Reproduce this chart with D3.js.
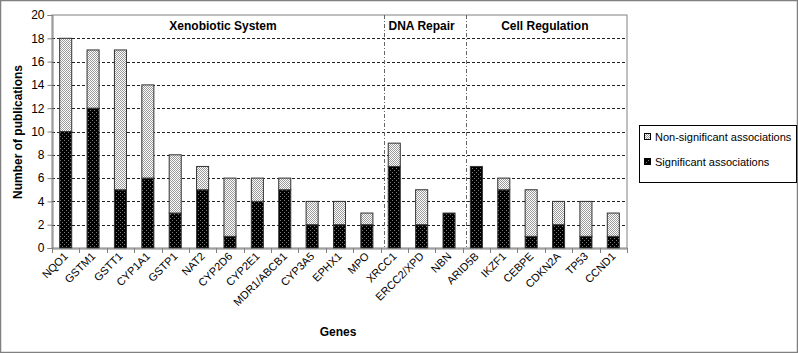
<!DOCTYPE html>
<html>
<head>
<meta charset="utf-8">
<script src="https://cdn.jsdelivr.net/npm/d3@7"></script>
<style>
  html, body { margin: 0; padding: 0; background: #fff; }
  svg { display: block; font-family: Arial, "Liberation Sans", sans-serif; }
</style>
</head>
<body>
<svg id="chart" width="798" height="353"></svg>
<script>
const genes = ["NQO1","GSTM1","GSTT1","CYP1A1","GSTP1","NAT2","CYP2D6","CYP2E1","MDR1/ABCB1","CYP3A5","EPHX1","MPO","XRCC1","ERCC2/XPD","NBN","ARID5B","IKZF1","CEBPE","CDKN2A","TP53","CCND1"];
const significant    = [10,12,5,6,3,5,1,4,5,2,2,2,7,2,3,7,5,1,2,1,1];
const nonSignificant = [8,5,12,8,5,2,5,2,1,2,2,1,2,3,0,0,1,4,2,3,2];
const yTicks = [0,2,4,6,8,10,12,14,16,18,20];
const groups = ["Xenobiotic System","DNA Repair","Cell Regulation"];
const groupStart = [0,12,15];
const groupEnd = [11,14,20];
const seriesNames = ["Non-significant associations","Significant associations"];

const svg = d3.select("#chart");
const W = 798, H = 353;
const m = {left: 52, right: 627, top: 15, bottom: 248};

// outer border
svg.append("rect").attr("x",0.5).attr("y",0.5).attr("width",W-1).attr("height",H-1)
  .attr("fill","#fff").attr("stroke","#808080").attr("stroke-width",1.5);

const defs = svg.append("defs");
const pL = defs.append("pattern").attr("id","pLight").attr("width",2).attr("height",2).attr("patternUnits","userSpaceOnUse");
pL.append("rect").attr("width",2).attr("height",2).attr("fill","#ffffff");
pL.append("rect").attr("x",0).attr("y",0).attr("width",1).attr("height",1).attr("fill","#9a9a9a");
pL.append("rect").attr("x",1).attr("y",1).attr("width",1).attr("height",1).attr("fill","#9a9a9a");
const pD = defs.append("pattern").attr("id","pDark").attr("width",4).attr("height",4).attr("patternUnits","userSpaceOnUse");
pD.append("rect").attr("width",4).attr("height",4).attr("fill","#000");
pD.append("rect").attr("x",0).attr("y",0).attr("width",1).attr("height",1).attr("fill","#7a7a7a");
pD.append("rect").attr("x",2).attr("y",2).attr("width",1).attr("height",1).attr("fill","#7a7a7a");

const x = d3.scaleBand().domain(genes).range([m.left, m.right]).paddingInner(0).paddingOuter(0);
const y = d3.scaleLinear().domain([0,20]).range([m.bottom, m.top]);

// plot border
svg.append("rect").attr("x",m.left).attr("y",m.top).attr("width",m.right-m.left).attr("height",m.bottom-m.top)
  .attr("fill","#fff").attr("stroke","#808080").attr("stroke-width",1);

// gridlines
svg.append("g").selectAll("line").data(yTicks.filter(v => v>0 && v<20)).join("line")
  .attr("x1",m.left).attr("x2",m.right)
  .attr("y1",d=>Math.round(y(d))+0.5).attr("y2",d=>Math.round(y(d))+0.5)
  .attr("stroke","#222").attr("stroke-width",1).attr("stroke-dasharray","3,2");

// group separators
const bw = x.step();
[1,2].forEach(i => {
  const xs = Math.round(x(genes[groupStart[i]]) + 3.5) + 0.5;
  svg.append("line").attr("x1",xs).attr("x2",xs).attr("y1",m.top).attr("y2",m.bottom)
    .attr("stroke","#666").attr("stroke-width",1).attr("stroke-dasharray","4,2,1,2");
});

// group titles
groups.forEach((g,i) => {
  const a = x(genes[groupStart[i]]), b = x(genes[groupEnd[i]]) + bw;
  let cx = (a+b)/2;
  if (i===0) cx = 223;
  svg.append("text").attr("x",cx).attr("y",30).attr("text-anchor","middle")
    .attr("font-size",12).attr("font-weight","bold").text(g);
});

// bars
const barW = bw*0.44;
const data = genes.map((g,i)=>({g, s:significant[i], n:nonSignificant[i]}));
const bars = svg.append("g");
data.forEach(d => {
  const bx = x(d.g) + (bw-barW)/2;
  if (d.s>0) bars.append("rect").attr("x",bx).attr("y",y(d.s)).attr("width",barW).attr("height",y(0)-y(d.s))
    .attr("fill","url(#pDark)").attr("stroke","#333").attr("stroke-width",1);
  if (d.n>0) bars.append("rect").attr("x",bx).attr("y",y(d.s+d.n)).attr("width",barW).attr("height",y(d.s)-y(d.s+d.n))
    .attr("fill","url(#pLight)").attr("stroke","#333").attr("stroke-width",1);
});

// y axis
const yAxis = d3.axisLeft(y).tickValues(yTicks).tickSize(5).tickPadding(3);
const gy = svg.append("g").attr("transform",`translate(${m.left+0.5},0)`).call(yAxis);
gy.select(".domain").attr("stroke","#808080");
gy.selectAll(".tick line").attr("stroke","#808080");
gy.selectAll(".tick text").attr("font-size",12).attr("fill","#000").attr("font-family","Arial, 'Liberation Sans', sans-serif");

// x axis
const xAxis = d3.axisBottom(x).tickSize(0).tickFormat("");
const gx = svg.append("g").attr("transform",`translate(0,${m.bottom+0.5})`).call(xAxis);
gx.select(".domain").attr("stroke","#808080");
gx.selectAll(".tick").remove();
// boundary ticks
svg.append("g").selectAll("line").data(d3.range(genes.length+1)).join("line")
  .attr("x1",i=>Math.round(m.left+i*bw)+0.5).attr("x2",i=>Math.round(m.left+i*bw)+0.5)
  .attr("y1",m.bottom).attr("y2",m.bottom+5).attr("stroke","#808080");

// x labels
svg.append("g").selectAll("text").data(genes).join("text")
  .attr("transform",d=>`translate(${x(d)+bw/2+3},${m.bottom+9}) rotate(-45)`)
  .attr("text-anchor","end").attr("font-size",11).attr("fill","#000").text(d=>d);

// axis titles
svg.append("text").attr("x",338).attr("y",336).attr("text-anchor","middle")
  .attr("font-size",12).attr("font-weight","bold").text("Genes");
svg.append("text").attr("transform","translate(22,132) rotate(-90)").attr("text-anchor","middle")
  .attr("font-size",12).attr("font-weight","bold").text("Number of publications");

// legend
const lg = svg.append("g");
lg.append("rect").attr("x",639.5).attr("y",125.5).attr("width",157).attr("height",57)
  .attr("fill","#fff").attr("stroke","#000").attr("stroke-width",1);
const fills = ["url(#pLight)","url(#pDark)"];
seriesNames.forEach((s,i)=>{
  const cy = 137 + i*25;
  lg.append("rect").attr("x",644.5).attr("y",cy-3.5).attr("width",6).attr("height",6)
    .attr("fill",fills[i]).attr("stroke","#000").attr("stroke-width",1);
  lg.append("text").attr("x",655).attr("y",cy+4).attr("font-size",11).attr("fill","#000").text(s);
});
</script>
</body>
</html>
